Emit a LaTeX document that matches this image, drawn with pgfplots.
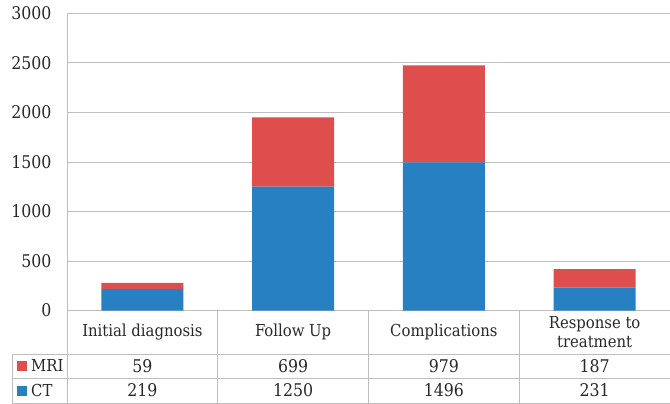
\documentclass[border=0pt]{standalone}
\usepackage{fontspec}
\setmainfont{DejaVu Serif Condensed}
\usepackage{pgfplots}
\pgfplotsset{compat=1.18}
\definecolor{mri}{RGB}{221,78,76}
\definecolor{ct}{RGB}{38,128,194}
\definecolor{gridc}{RGB}{190,190,190}
\definecolor{txt}{RGB}{40,40,40}
\newcommand{\numfont}{\fontsize{17.5bp}{19bp}\selectfont}
\newcommand{\txtfont}{\fontsize{16.5bp}{19bp}\selectfont}
\begin{document}
\begin{tikzpicture}
\begin{axis}[
  at={(0,0)}, anchor=south west,
  scale only axis, width=603bp, height=297.2bp,
  xmin=-0.5, xmax=3.5, ymin=0, ymax=3000,
  ybar stacked, bar width=82bp,
  axis x line*=bottom, axis y line*=left,
  axis line style={gridc, line width=0.8pt, -},
  xtick=\empty, ytick={0,500,...,3000},
  major tick length=0pt,
  ymajorgrids, grid style={gridc, line width=0.8pt},
  yticklabel style={font=\numfont, text=txt, anchor=east, xshift=-12bp},
  /pgf/number format/1000 sep={},
  /pgf/number format/assume math mode=true,
]
% CT
\addplot[fill=ct, draw=none] coordinates {(0,219) (1,1250) (2,1496) (3,231)};
% MRI
\addplot[fill=mri, draw=none] coordinates {(0,59) (1,699) (2,979) (3,187)};
\end{axis}
% data table below the plot
\begin{scope}[gridc, line width=0.8pt]
  \draw (0,0) -- (0,-93bp);
  \draw (150.75bp,0) -- (150.75bp,-93bp);
  \draw (301.5bp,0) -- (301.5bp,-93bp);
  \draw (452.25bp,0) -- (452.25bp,-93bp);
  \draw (-55bp,-43.5bp) -- (603bp,-43.5bp);
  \draw (-55bp,-67.5bp) -- (603bp,-67.5bp);
  \draw (-55bp,-92.6bp) -- (603bp,-92.6bp);
  \draw (-55bp,-43.5bp) -- (-55bp,-92.6bp);
\end{scope}
\begin{scope}[text=txt]
  \node[font=\txtfont] at (75.375bp,-21.5bp) {Initial diagnosis};
  \node[font=\txtfont] at (226.125bp,-21.5bp) {Follow Up};
  \node[font=\txtfont] at (376.875bp,-21.5bp) {Complications};
  \node[font=\txtfont, align=center] at (527.625bp,-21.5bp) {Response to\\treatment};
  \foreach \v [count=\i from 0] in {59,699,979,187}
    \node[font=\numfont] at ({(150.75*\i+75.375)*1bp},-55.5bp) {\v};
  \foreach \v [count=\i from 0] in {219,1250,1496,231}
    \node[font=\numfont] at ({(150.75*\i+75.375)*1bp},-80bp) {\v};
  \fill[mri] (-50bp,-60.5bp) rectangle (-40bp,-50.5bp);
  \fill[ct] (-50bp,-85bp) rectangle (-40bp,-75bp);
  \node[font=\txtfont, anchor=base west, inner sep=0pt] at (-36bp,-61bp) {MRI};
  \node[font=\txtfont, anchor=base west, inner sep=0pt] at (-36bp,-85.5bp) {CT};
\end{scope}
\pgfresetboundingbox
\path (-67bp,-93.5bp) rectangle (603bp,310.5bp);
\end{tikzpicture}
\end{document}
